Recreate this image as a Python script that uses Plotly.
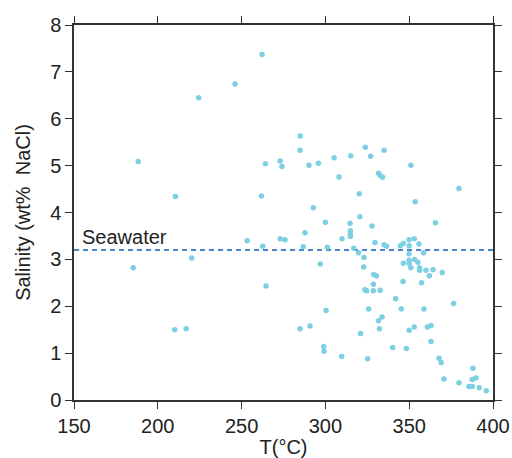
import plotly.graph_objects as go

temperature = [262.2, 246.1, 224.4, 188.3, 264.2, 273.0, 274.1, 210.5, 261.8, 285.0,
               284.9, 290.2, 295.8, 305.2, 308.1, 315.1, 323.8, 327.0, 335.0, 331.7,
               332.7, 334.1, 351.0, 320.2, 379.7, 353.6, 292.8, 320.6, 300.0, 365.7,
               314.7, 327.8, 287.8, 314.9, 314.9, 314.9, 273.0, 275.9, 309.9, 329.6,
               335.0, 336.5, 353.0, 349.9, 355.8, 346.5, 344.7, 350.0, 286.8, 301.2,
               316.9, 319.8, 323.0, 349.9, 358.6, 349.9, 353.2, 355.2, 346.5, 350.0,
               351.0, 356.2, 356.2, 360.0, 364.2, 369.7, 362.0, 297.0, 322.8, 328.8,
               330.4, 328.6, 346.3, 357.4, 323.6, 324.6, 328.6, 332.7, 341.9, 376.5,
               300.4, 325.8, 345.3, 358.8, 333.8, 331.7, 284.9, 290.8, 332.2, 360.8,
               363.0, 353.0, 350.0, 321.0, 363.0, 299.0, 299.2, 340.1, 348.3, 309.7,
               325.2, 367.8, 369.1, 370.7, 388.0, 387.6, 389.8, 379.7, 385.6, 387.6,
               391.8, 396.0, 185.3, 220.2, 210.1, 216.9, 253.3, 262.6, 264.6]
salinity = [7.37, 6.74, 6.45, 5.09, 5.04, 5.10, 4.98, 4.34, 4.35, 5.63,
            5.33, 5.01, 5.05, 5.17, 4.76, 5.21, 5.39, 5.20, 5.33, 4.84,
            4.79, 4.75, 5.01, 4.40, 4.51, 4.23, 4.10, 3.91, 3.79, 3.78,
            3.77, 3.71, 3.57, 3.61, 3.54, 3.49, 3.44, 3.42, 3.44, 3.36,
            3.31, 3.28, 3.44, 3.42, 3.33, 3.34, 3.29, 3.29, 3.27, 3.26,
            3.24, 3.14, 3.04, 3.12, 3.14, 2.98, 3.00, 2.94, 2.92, 2.91,
            2.82, 2.82, 2.77, 2.77, 2.78, 2.72, 2.65, 2.90, 2.84, 2.68,
            2.65, 2.47, 2.53, 2.50, 2.35, 2.33, 2.33, 2.34, 2.16, 2.06,
            1.91, 1.94, 1.94, 1.94, 1.77, 1.69, 1.52, 1.58, 1.52, 1.56,
            1.59, 1.56, 1.49, 1.42, 1.25, 1.14, 1.04, 1.12, 1.10, 0.93,
            0.88, 0.89, 0.80, 0.45, 0.68, 0.44, 0.47, 0.37, 0.29, 0.29,
            0.26, 0.20, 2.82, 3.03, 1.50, 1.52, 3.40, 3.28, 2.43]

seawater_salinity = 3.2
x_range = [150, 400]
y_range = [0, 8]
x_ticks = [150, 200, 250, 300, 350, 400]
y_ticks = [0, 1, 2, 3, 4, 5, 6, 7, 8]

FONT = "Liberation Sans, Arial, sans-serif"

fig = go.Figure()
fig.add_trace(go.Scatter(
    x=x_range, y=[seawater_salinity, seawater_salinity], mode="lines",
    line=dict(color="#0f5cbd", width=1.6, dash="5px,4px"),
    hoverinfo="skip", showlegend=False))
fig.add_trace(go.Scatter(
    x=temperature, y=salinity, mode="markers",
    marker=dict(color="#7dd0e2", size=5.5, line=dict(width=0)),
    showlegend=False, cliponaxis=False))

fig.add_annotation(x=x_range[0], y=seawater_salinity, xref="x", yref="y",
                   text="Seawater", showarrow=False, xanchor="left", yanchor="bottom",
                   xshift=6, yshift=0,
                   font=dict(family=FONT, size=20, color="#222"))

axis_common = dict(showline=True, linecolor="#333", linewidth=1.5, mirror="allticks",
                   ticks="outside", ticklen=7, tickwidth=1.3, tickcolor="#333",
                   showgrid=False, zeroline=False, automargin=False,
                   tickfont=dict(family=FONT, size=20, color="#222"))

fig.update_xaxes(range=x_range, tickvals=x_ticks,
                 title=dict(text="T(°C)", standoff=7,
                            font=dict(family=FONT, size=20, color="#222")),
                 **axis_common)
fig.update_yaxes(range=y_range, tickvals=y_ticks,
                 title=dict(text="Salinity (wt%  NaCl)", standoff=14,
                            font=dict(family=FONT, size=20, color="#222")),
                 **axis_common)

fig.update_layout(width=512, height=458,
                  margin=dict(l=73.5, r=19.3, t=25.3, b=58),
                  plot_bgcolor="white", paper_bgcolor="white")

fig.write_html("out.html")
